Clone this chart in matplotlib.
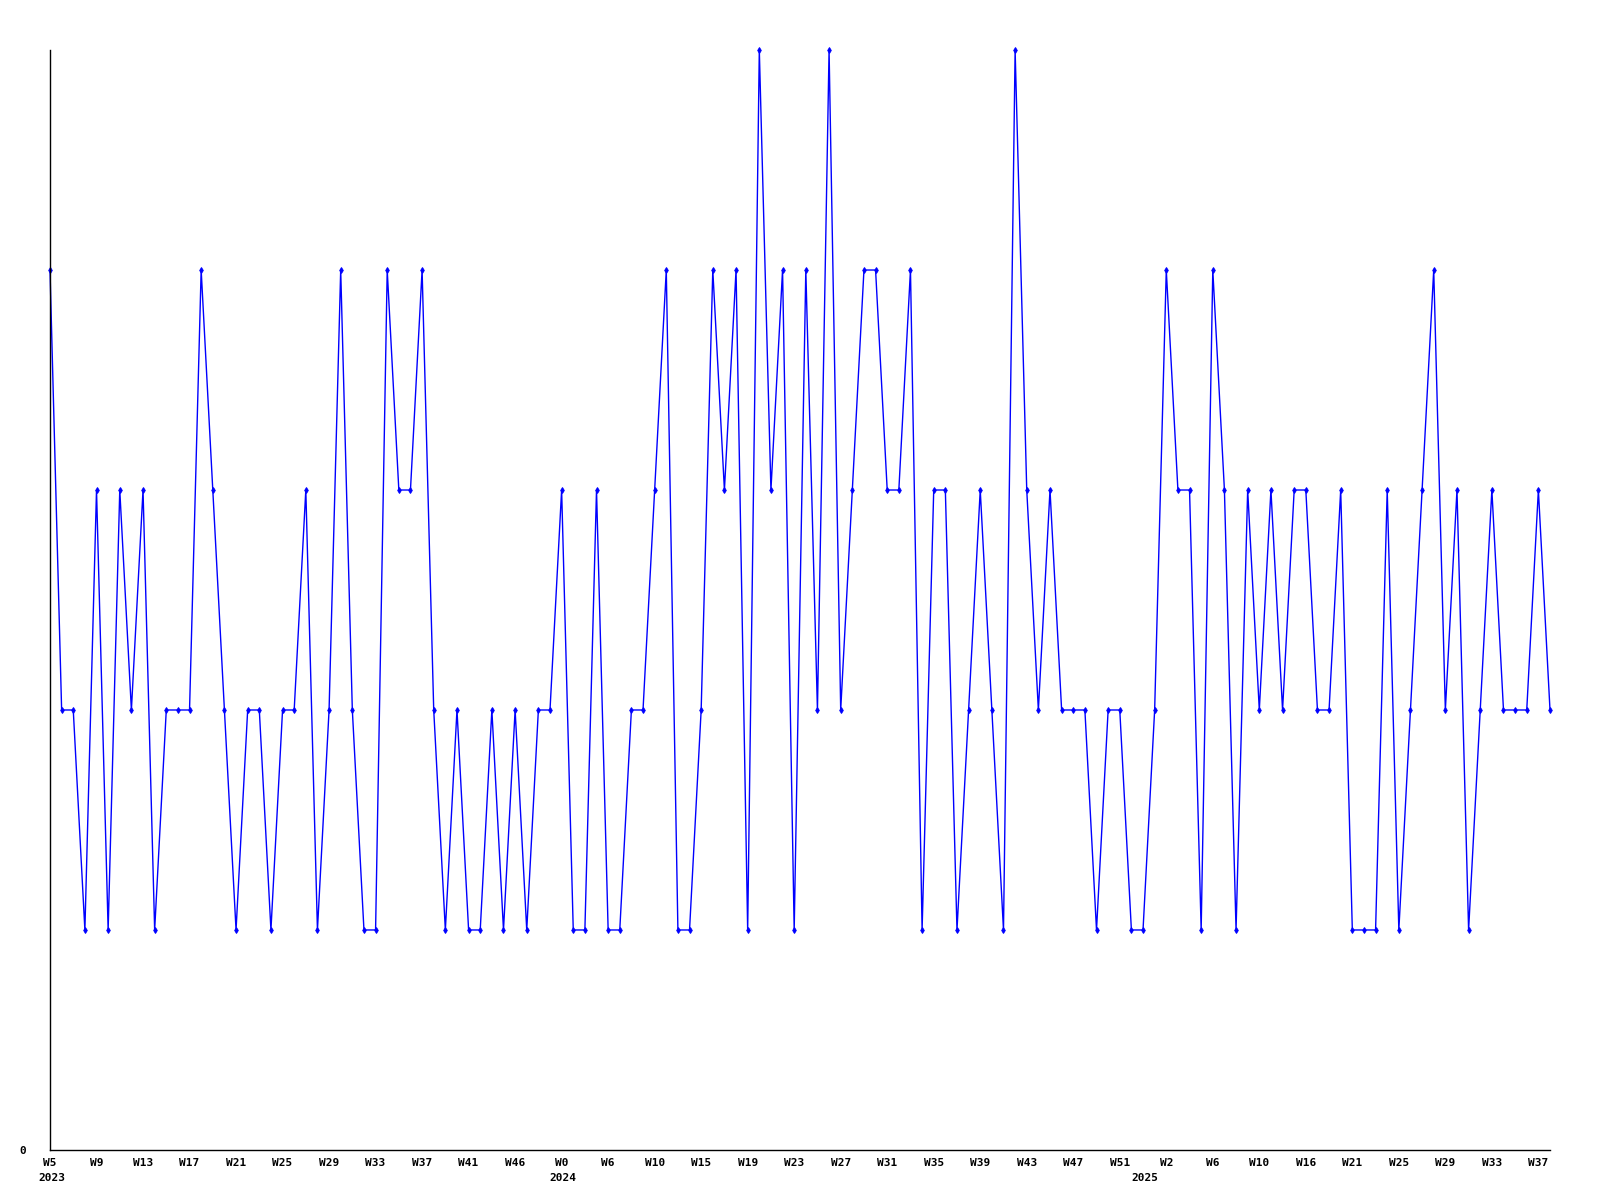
import matplotlib
matplotlib.use("Agg")
import matplotlib.pyplot as plt

# weekly counts, 2023 W5 .. 2025 W37
counts = [
    4, 2, 2, 1, 3, 1, 3, 2, 3, 1,
    2, 2, 2, 4, 3, 2, 1, 2, 2, 1,
    2, 2, 3, 1, 2, 4, 2, 1, 1, 4,
    3, 3, 4, 2, 1, 2, 1, 1, 2, 1,
    2, 1, 2, 2, 3, 1, 1, 3, 1, 1,
    2, 2, 3, 4, 1, 1, 2, 4, 3, 4,
    1, 5, 3, 4, 1, 4, 2, 5, 2, 3,
    4, 4, 3, 3, 4, 1, 3, 3, 1, 2,
    3, 2, 1, 5, 3, 2, 3, 2, 2, 2,
    1, 2, 2, 1, 1, 2, 4, 3, 3, 1,
    4, 3, 1, 3, 2, 3, 2, 3, 3, 2,
    2, 3, 1, 1, 1, 3, 1, 2, 3, 4,
    2, 3, 1, 2, 3, 2, 2, 2, 3, 2,
]

week_labels = ["W5", "W9", "W13", "W17", "W21", "W25", "W29", "W33", "W37",
               "W41", "W46", "W0", "W6", "W10", "W15", "W19", "W23", "W27",
               "W31", "W35", "W39", "W43", "W47", "W51", "W2", "W6", "W10",
               "W16", "W21", "W25", "W29", "W33", "W37"]
week_tick_pos = list(range(0, len(counts), 4))

year_labels = ["2023", "2024", "2025"]
year_pos = [0, 44, 94]

fig = plt.figure(figsize=(16, 12), dpi=100)
ax = fig.add_axes([0.03125, 0.0417, 0.9375, 0.9166])

x = list(range(len(counts)))
ax.plot(x, counts, color="#0000ff", linewidth=1, marker="d", markersize=3,
        markeredgewidth=0.7, clip_on=False)

ax.set_xlim(0, len(counts) - 1)
ax.set_ylim(0, 5)

for side in ["top", "right"]:
    ax.spines[side].set_visible(False)
for side in ["left", "bottom"]:
    ax.spines[side].set_linewidth(1)
    ax.spines[side].set_color("black")

font = dict(family="DejaVu Sans Mono", weight="bold", size=8)

ax.set_yticks([0])
ax.set_yticklabels(["0"], **font)
ax.tick_params(axis="y", length=0, pad=17)

ax.set_xticks(week_tick_pos)
ax.set_xticklabels(week_labels, **font)
ax.tick_params(axis="x", length=0, pad=6)

for label, pos in zip(year_labels, year_pos):
    ax.annotate(label, xy=(pos, 0), xycoords="data", xytext=(-8.5, -20),
                textcoords="offset points", ha="left", va="center", **font)

fig.savefig("out.png", dpi=100, facecolor="white")
